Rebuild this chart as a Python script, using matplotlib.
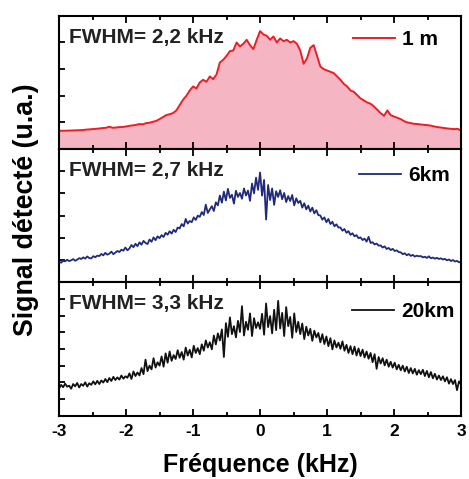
import numpy as np
import matplotlib
matplotlib.use('Agg')
import matplotlib.pyplot as plt
from matplotlib.ticker import MultipleLocator

plt.rcParams['font.family'] = ['Liberation Sans', 'DejaVu Sans']
plt.rcParams['font.weight'] = 'bold'

# frequency grids (kHz)
freq_1m = np.linspace(-3, 3, 121)
freq_fibre = np.linspace(-3, 3, 201)

# 1 m spectrum (normalised units)
sig_1m = [
    0.137, 0.138, 0.138, 0.139, 0.140, 0.141, 0.142, 0.143, 0.146, 0.148,
    0.150, 0.152, 0.155, 0.158, 0.160, 0.168, 0.160, 0.162, 0.165, 0.166,
    0.170, 0.175, 0.178, 0.182, 0.188, 0.186, 0.195, 0.198, 0.205, 0.212,
    0.225, 0.240, 0.255, 0.262, 0.270, 0.290, 0.330, 0.370, 0.400, 0.440,
    0.470, 0.455, 0.500, 0.520, 0.505, 0.545, 0.525, 0.560, 0.650, 0.670,
    0.700, 0.735, 0.740, 0.800, 0.770, 0.790, 0.820, 0.780, 0.750, 0.820,
    0.885, 0.860, 0.850, 0.820, 0.845, 0.800, 0.830, 0.810, 0.820, 0.800,
    0.810, 0.790, 0.740, 0.640, 0.680, 0.760, 0.780, 0.700, 0.620, 0.600,
    0.590, 0.580, 0.570, 0.545, 0.520, 0.490, 0.470, 0.440, 0.430, 0.405,
    0.380, 0.365, 0.350, 0.340, 0.320, 0.295, 0.270, 0.250, 0.290, 0.255,
    0.245, 0.235, 0.225, 0.210, 0.200, 0.195, 0.190, 0.188, 0.185, 0.182,
    0.180, 0.176, 0.170, 0.165, 0.162, 0.158, 0.155, 0.152, 0.150, 0.152,
    0.140,
]

# 6 km spectrum
sig_6km = [
    0.155, 0.148, 0.162, 0.158, 0.170, 0.160, 0.166, 0.175, 0.163, 0.171,
    0.182, 0.176, 0.188, 0.179, 0.195, 0.183, 0.180, 0.197, 0.189, 0.201,
    0.198, 0.214, 0.203, 0.222, 0.208, 0.216, 0.231, 0.212, 0.224, 0.236,
    0.228, 0.246, 0.238, 0.262, 0.241, 0.255, 0.281, 0.264, 0.290, 0.272,
    0.301, 0.283, 0.312, 0.296, 0.288, 0.322, 0.305, 0.338, 0.317, 0.346,
    0.332, 0.355, 0.341, 0.372, 0.358, 0.384, 0.366, 0.395, 0.378, 0.412,
    0.405, 0.438, 0.421, 0.476, 0.442, 0.461, 0.452, 0.488, 0.469, 0.501,
    0.492, 0.528, 0.506, 0.583, 0.521, 0.548, 0.572, 0.536, 0.601, 0.578,
    0.652, 0.598, 0.681, 0.615, 0.702, 0.634, 0.658, 0.591, 0.688, 0.642,
    0.671, 0.628, 0.705, 0.652, 0.689, 0.612, 0.742, 0.668, 0.786, 0.694,
    0.825, 0.651, 0.769, 0.472, 0.731, 0.618, 0.705, 0.582, 0.684, 0.641,
    0.692, 0.624, 0.671, 0.603, 0.648, 0.611, 0.656, 0.578, 0.631, 0.596,
    0.612, 0.561, 0.594, 0.548, 0.576, 0.532, 0.561, 0.518, 0.542, 0.505,
    0.502, 0.471, 0.488, 0.452, 0.476, 0.438, 0.455, 0.421, 0.436, 0.412,
    0.412, 0.388, 0.401, 0.372, 0.385, 0.357, 0.369, 0.346, 0.355, 0.332,
    0.338, 0.318, 0.329, 0.306, 0.342, 0.296, 0.302, 0.285, 0.292, 0.276,
    0.278, 0.262, 0.271, 0.251, 0.259, 0.243, 0.252, 0.236, 0.241, 0.228,
    0.226, 0.212, 0.219, 0.204, 0.213, 0.199, 0.207, 0.194, 0.201, 0.196,
    0.198, 0.188, 0.193, 0.184, 0.196, 0.181, 0.187, 0.178, 0.185, 0.176,
    0.181, 0.172, 0.177, 0.166, 0.172, 0.161, 0.168, 0.157, 0.162, 0.151,
    0.155,
]

# 20 km spectrum
sig_20km = [
    0.205, 0.232, 0.214, 0.241, 0.218, 0.226, 0.203, 0.238, 0.221, 0.246,
    0.212, 0.238, 0.225, 0.251, 0.219, 0.244, 0.232, 0.258, 0.236, 0.262,
    0.238, 0.265, 0.249, 0.276, 0.252, 0.283, 0.261, 0.292, 0.268, 0.288,
    0.271, 0.302, 0.278, 0.296, 0.285, 0.318, 0.276, 0.332, 0.298, 0.325,
    0.302, 0.358, 0.312, 0.421, 0.335, 0.376, 0.348, 0.432, 0.362, 0.401,
    0.376, 0.445, 0.368, 0.468, 0.398, 0.482, 0.412, 0.455, 0.426, 0.492,
    0.435, 0.478, 0.421, 0.512, 0.452, 0.495, 0.438, 0.525, 0.471, 0.508,
    0.462, 0.536, 0.488, 0.565, 0.512, 0.552, 0.498, 0.602, 0.535, 0.618,
    0.565, 0.648, 0.441, 0.695, 0.592, 0.738, 0.612, 0.672, 0.588, 0.712,
    0.628, 0.822, 0.602, 0.705, 0.645, 0.768, 0.598, 0.732, 0.658, 0.701,
    0.652, 0.765, 0.608, 0.842, 0.665, 0.748, 0.618, 0.795, 0.642, 0.862,
    0.655, 0.772, 0.598, 0.815, 0.672, 0.741, 0.585, 0.768, 0.628, 0.705,
    0.612, 0.692, 0.575, 0.668, 0.602, 0.652, 0.562, 0.638, 0.588, 0.621,
    0.551, 0.612, 0.538, 0.595, 0.522, 0.582, 0.498, 0.565, 0.512, 0.548,
    0.502, 0.558, 0.488, 0.532, 0.471, 0.522, 0.462, 0.518, 0.452, 0.505,
    0.448, 0.496, 0.438, 0.482, 0.428, 0.471, 0.402, 0.462, 0.352, 0.441,
    0.392, 0.432, 0.378, 0.421, 0.368, 0.405, 0.361, 0.398, 0.348, 0.382,
    0.341, 0.376, 0.332, 0.368, 0.321, 0.358, 0.318, 0.352, 0.308, 0.342,
    0.312, 0.345, 0.298, 0.336, 0.289, 0.328, 0.281, 0.315, 0.272, 0.302,
    0.268, 0.296, 0.258, 0.289, 0.241, 0.275, 0.238, 0.268, 0.192, 0.258,
    0.235,
]

labels = ['1 m', '6km', '20km']
fwhm = ['FWHM= 2,2 kHz', 'FWHM= 2,7 kHz', 'FWHM= 3,3 kHz']
colors = ['#ee1c25', '#1f2a7a', '#111111']

fig = plt.figure(figsize=(4.69, 4.79), dpi=100)
gs = fig.add_gridspec(3, 1, left=0.126, right=0.983, top=0.967, bottom=0.132,
                      hspace=0)
axes = [fig.add_subplot(gs[i]) for i in range(3)]

# panel 1 : filled
axes[0].fill_between(freq_1m, sig_1m, 0, color='#f5b5c3', lw=0)
axes[0].plot(freq_1m, sig_1m, color=colors[0], lw=1.4, label=labels[0])
axes[1].plot(freq_fibre, sig_6km, color=colors[1], lw=1.3, label=labels[1])
axes[2].plot(freq_fibre, sig_20km, color=colors[2], lw=1.3, label=labels[2])

ytick_step = [0.2, 0.167, 0.125]
leg_pos = [(0.731, 0.82), (0.746, 0.80), (0.729, 0.78)]
for i, ax in enumerate(axes):
    ax.set_xlim(-3, 3)
    ax.set_ylim(0, 1)
    ax.xaxis.set_major_locator(MultipleLocator(1))
    ax.xaxis.set_minor_locator(MultipleLocator(0.5))
    ax.yaxis.set_major_locator(MultipleLocator(ytick_step[i]))
    ax.tick_params(axis='x', which='both', direction='in', top=True,
                   bottom=True, width=1.3)
    ax.tick_params(axis='x', which='major', length=5)
    ax.tick_params(axis='x', which='minor', length=3)
    ax.tick_params(axis='y', which='both', direction='in', left=True,
                   right=False, length=4, width=1.3, labelleft=False)
    for sp in ax.spines.values():
        sp.set_linewidth(1.5)
    if i < 2:
        ax.tick_params(axis='x', labelbottom=False)
    ax.text(0.025, 0.84, fwhm[i], transform=ax.transAxes, fontsize=15,
            fontweight='bold', va='center', ha='left', color='#222222')
    ax.legend(loc='center left', frameon=False,
              handlelength=2.0, handletextpad=0.35,
              bbox_to_anchor=leg_pos[i], borderaxespad=0, borderpad=0,
              prop={'weight': 'bold', 'size': 15})

axes[2].tick_params(axis='x', labelsize=12.5, pad=6)
axes[2].set_xticks([-3, -2, -1, 0, 1, 2, 3])
axes[2].set_xticklabels(['-3', '-2', '-1', '0', '1', '2', '3'],
                        fontweight='bold')
axes[2].set_xlabel('Fréquence (kHz)', fontsize=18, fontweight='bold',
                   labelpad=10)
fig.text(0.055, 0.562, 'Signal détecté (u.a.)', rotation=90, fontsize=19.3,
         fontweight='bold', va='center', ha='center')

fig.savefig('out.png', dpi=100)
